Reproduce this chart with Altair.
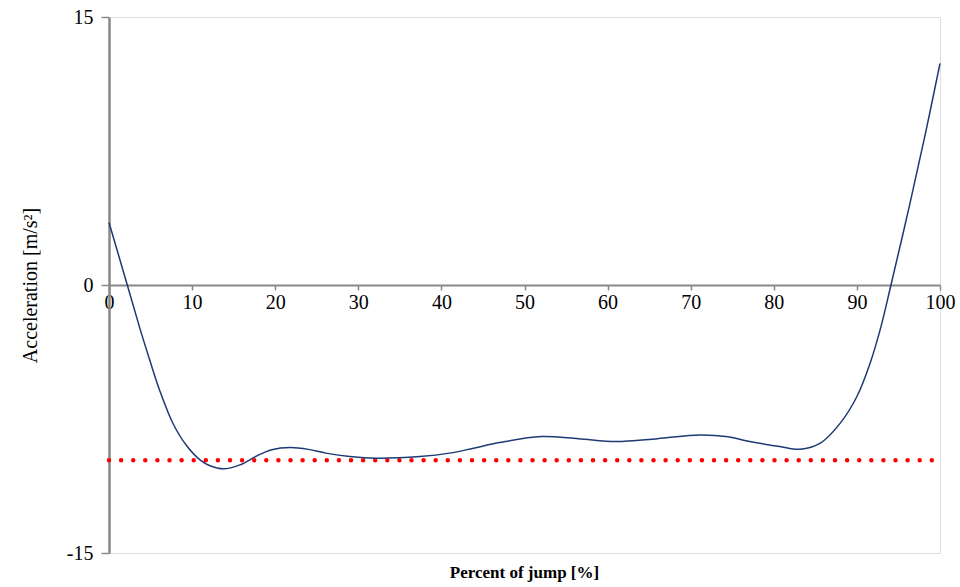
import altair as alt
import pandas as pd

# Percent of jump (x) and acceleration (y)
pct = [0, 2.2, 3.7, 4.9, 6.1, 7.7, 9.35, 10.95, 12.15, 13.75, 15.75, 17.8,
       19.6, 21.8, 24, 26.1, 29, 32.2, 37.4, 41, 44, 47, 52, 56.5, 61, 66,
       71.1, 74.5, 77.1, 80.7, 83.15, 85.6, 88.0, 90.0, 91.6, 92.8, 94.1,
       96.4, 98.3, 100]
acc = [3.5, 0.0, -2.4, -4.2, -5.9, -7.75, -9.0, -9.79, -10.12, -10.29,
       -10.07, -9.56, -9.22, -9.10, -9.2, -9.41, -9.6, -9.69, -9.60, -9.41,
       -9.12, -8.82, -8.48, -8.6, -8.76, -8.6, -8.40, -8.5, -8.76, -9.04,
       -9.19, -8.85, -7.73, -6.24, -4.36, -2.5, 0.0, 4.6, 8.6, 12.4]

gravity = [-9.81]
x_ticks = [0, 10, 20, 30, 40, 50, 60, 70, 80, 90, 100]
y_ticks = [-15, 0, 15]

df = pd.DataFrame({"pct": pct, "acc": acc})
gdf = pd.DataFrame({"g": gravity, "x0": [0], "x1": [100]})

W, H = 831, 536

xscale = alt.Scale(domain=[0, 100], nice=False, zero=False)
yscale = alt.Scale(domain=[-15, 15], nice=False, zero=False)

line = alt.Chart(df).mark_line(
    color="#1C3A74", strokeWidth=1.5, interpolate="catmull-rom"
).encode(
    x=alt.X("pct:Q", scale=xscale, axis=alt.Axis(
        title=None, values=x_ticks, grid=False, orient="bottom",
        offset=-H / 2, domainColor="#888888", domainWidth=2,
        tickColor="#888888", tickWidth=1.5, tickSize=5,
        labelFont="Liberation Serif", labelFontSize=20, labelColor="#000000",
        labelPadding=2, labelFlush=False, labelOverlap=False)),
    y=alt.Y("acc:Q", scale=yscale, axis=alt.Axis(
        title="Acceleration [m/s²]", values=y_ticks, grid=False,
        domainColor="#888888", domainWidth=2.5,
        tickColor="#888888", tickWidth=1.5, tickSize=8,
        labelExpr="'' + datum.value",
        labelFont="Liberation Serif", labelFontSize=20, labelColor="#000000",
        labelPadding=8, titleFont="Liberation Serif", titleFontSize=20,
        titleFontWeight="normal", titleColor="#000000", titlePadding=26)),
)

grav = alt.Chart(gdf).mark_rule(
    color="#FF0000", strokeWidth=4.5, strokeDash=[0, 12.1], strokeCap="round"
).encode(
    x=alt.X("x0:Q", scale=xscale),
    x2="x1:Q",
    y=alt.Y("g:Q", scale=yscale),
)

chart = alt.layer(grav, line).properties(
    width=W,
    height=H,
    autosize=alt.AutoSizeParams(type="none"),
    padding={"left": 109, "top": 17, "right": 20, "bottom": 34},
    title=alt.TitleParams(
        "Percent of jump [%]", orient="bottom", font="Liberation Serif",
        fontSize=17, fontWeight="bold", color="#000000", offset=2),
).configure_view(
    stroke="#000000", strokeWidth=2
).configure(background="white")

chart.save("out.html", embed_options={"renderer": "svg", "actions": False})
